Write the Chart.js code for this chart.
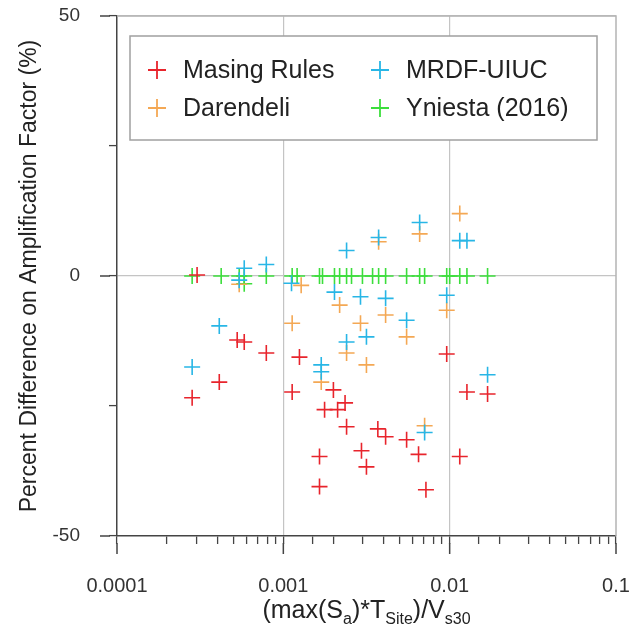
<!DOCTYPE html>
<html>
<head>
    <title>Amplification Factor Difference</title>
    <script src="https://cdn.jsdelivr.net/npm/chart.js"></script>
    <style>
        body {
            margin: 0;
            background: #fff;
            font-family: "Liberation Sans", Arial, sans-serif;
        }
        .wrap {
            position: relative;
            width: 642px;
            height: 634px;
        }
        #xtitle {
            position: absolute;
            left: 117px;
            width: 499px;
            top: 594px;
            text-align: center;
            font-size: 25px;
            line-height: 30px;
            color: #222;
        }
        #xtitle sub {
            font-size: 16px;
            vertical-align: -6px;
            line-height: 0;
        }
    </style>
</head>
<body>
    <div class="wrap">
        <canvas id="chart" width="642" height="634"></canvas>
        <div id="xtitle">(max(S<sub>a</sub>)*T<sub>Site</sub>)/V<sub>s30</sub></div>
    </div>

    <script>
        // values
        const masingX = [3.03e-4, 2.83e-4, 4.12e-4, 5.28e-4, 5.82e-4, 7.9e-4, 1.13e-3, 1.25e-3, 1.65e-3, 1.65e-3, 1.77e-3, 2.0e-3, 2.12e-3, 2.35e-3, 2.4e-3, 2.95e-3, 3.16e-3, 3.7e-3, 4.12e-3, 5.51e-3, 6.5e-3, 7.2e-3, 9.6e-3, 1.15e-2, 1.27e-2, 1.69e-2];
        const masingY = [0.2, -23.4, -20.4, -12.3, -12.7, -14.8, -22.3, -15.6, -34.7, -40.5, -25.7, -21.9, -25.7, -24.4, -29.0, -33.6, -36.7, -29.4, -30.9, -31.5, -34.3, -41.1, -15.0, -34.7, -22.3, -22.7];

        const darendeliX = [5.43e-4, 1.13e-3, 1.28e-3, 1.69e-3, 2.18e-3, 2.4e-3, 2.91e-3, 3.16e-3, 3.74e-3, 4.12e-3, 5.51e-3, 6.6e-3, 7.07e-3, 9.6e-3, 1.15e-2];
        const darendeliY = [-1.6, -9.1, -1.8, -20.4, -5.6, -14.8, -9.1, -17.1, 6.6, -7.5, -11.7, 8.1, -28.8, -6.6, 12.0];

        const mrdfX = [2.83e-4, 4.12e-4, 5.43e-4, 5.82e-4, 7.9e-4, 1.12e-3, 1.69e-3, 1.69e-3, 2.03e-3, 2.4e-3, 2.4e-3, 2.91e-3, 3.16e-3, 3.74e-3, 4.12e-3, 5.51e-3, 6.6e-3, 7.07e-3, 9.6e-3, 1.15e-2, 1.27e-2, 1.69e-2];
        const mrdfY = [-17.5, -9.6, -0.8, 1.5, 2.2, -1.4, -17.1, -18.4, -3.1, 4.9, -12.7, -4.0, -11.7, 7.4, -4.3, -8.5, 10.3, -30.1, -3.7, 6.8, 6.8, -19.0];

        const yniestaX = [2.83e-4, 4.23e-4, 5.43e-4, 5.82e-4, 5.82e-4, 7.9e-4, 1.13e-3, 1.21e-3, 1.65e-3, 1.72e-3, 2.03e-3, 2.18e-3, 2.4e-3, 2.57e-3, 2.99e-3, 3.44e-3, 3.74e-3, 4.12e-3, 5.51e-3, 6.6e-3, 7.07e-3, 9.6e-3, 1.0e-2, 1.15e-2, 1.27e-2, 1.69e-2];
        const yniestaY = [0, 0, 0, 0, -1.5, 0, 0, 0, 0, 0, 0, 0, 0, 0, 0, 0, 0, 0, 0, 0, 0, 0, 0, 0, 0, 0];

        const xTickLabels = ['0.0001', '0.001', '0.01', '0.1'];
        const yTickLabels = [50, 0, -50];

        const seriesNames = ['Masing Rules', 'Darendeli', 'MRDF-UIUC', 'Yniesta (2016)'];

        const RED = 'rgb(232,36,44)';
        const ORANGE = 'rgb(244,168,84)';
        const CYAN = 'rgb(40,182,230)';
        const GREEN = 'rgb(60,222,60)';

        function pts(xs, ys) {
            return xs.map((x, i) => ({ x: x, y: ys[i] }));
        }

        function isDecade(v) {
            const l = Math.log10(v);
            return Math.abs(l - Math.round(l)) < 1e-6;
        }

        function series(label, data, color) {
            return {
                label: label,
                data: data,
                pointStyle: 'cross',
                pointRadius: 8,
                pointHoverRadius: 8,
                borderColor: color,
                backgroundColor: color,
                pointBorderWidth: 1.6,
                showLine: false
            };
        }

        // frame + long major ticks
        const frame = {
            id: 'frame',
            beforeDatasetsDraw(chart) {
                const { ctx, chartArea: a } = chart;
                ctx.save();
                ctx.strokeStyle = '#b4b4b4';
                ctx.lineWidth = 1.5;
                ctx.beginPath();
                ctx.moveTo(a.left, a.top);
                ctx.lineTo(a.right, a.top);
                ctx.lineTo(a.right, a.bottom);
                ctx.stroke();
                ctx.restore();
            },
            afterDraw(chart) {
                const { ctx, chartArea: a, scales } = chart;
                ctx.save();
                ctx.strokeStyle = '#444';
                ctx.lineWidth = 1.5;
                ctx.beginPath();
                xTickLabels.forEach(t => {
                    const px = scales.x.getPixelForValue(parseFloat(t));
                    ctx.moveTo(px, a.bottom + 7);
                    ctx.lineTo(px, a.bottom + 18);
                });
                yTickLabels.forEach(t => {
                    const py = scales.y.getPixelForValue(t);
                    ctx.moveTo(a.left - 7, py);
                    ctx.lineTo(a.left - 17, py);
                });
                ctx.stroke();
                ctx.restore();
            }
        };

        // boxed legend in two columns inside the plot
        const boxLegend = {
            id: 'boxLegend',
            afterDatasetsDraw(chart) {
                const ctx = chart.ctx;
                const box = { left: 130, top: 36, right: 597, bottom: 140 };
                ctx.save();
                ctx.fillStyle = '#fff';
                ctx.fillRect(box.left, box.top, box.right - box.left, box.bottom - box.top);
                ctx.strokeStyle = '#a0a0a0';
                ctx.lineWidth = 1.5;
                ctx.strokeRect(box.left, box.top, box.right - box.left, box.bottom - box.top);

                const items = [
                    { label: seriesNames[0], color: RED, x: 157, y: 70 },
                    { label: seriesNames[1], color: ORANGE, x: 157, y: 108 },
                    { label: seriesNames[2], color: CYAN, x: 380, y: 70 },
                    { label: seriesNames[3], color: GREEN, x: 380, y: 108 }
                ];
                ctx.font = '25px "Liberation Sans", Arial, sans-serif';
                ctx.textBaseline = 'middle';
                items.forEach(it => {
                    ctx.strokeStyle = it.color;
                    ctx.lineWidth = 1.8;
                    ctx.beginPath();
                    ctx.moveTo(it.x - 9, it.y);
                    ctx.lineTo(it.x + 9, it.y);
                    ctx.moveTo(it.x, it.y - 9);
                    ctx.lineTo(it.x, it.y + 9);
                    ctx.stroke();
                    ctx.fillStyle = '#222';
                    ctx.fillText(it.label, it.x + 26, it.y + 1);
                });
                ctx.restore();
            }
        };

        const chart = new Chart(document.getElementById('chart'), {
            type: 'scatter',
            data: {
                datasets: [
                    series(seriesNames[0], pts(masingX, masingY), RED),
                    series(seriesNames[2], pts(mrdfX, mrdfY), CYAN),
                    series(seriesNames[1], pts(darendeliX, darendeliY), ORANGE),
                    series(seriesNames[3], pts(yniestaX, yniestaY), GREEN)
                ]
            },
            options: {
                responsive: false,
                animation: false,
                layout: {
                    padding: { top: 16, right: 26, bottom: 0, left: 0 }
                },
                plugins: {
                    legend: { display: false },
                    tooltip: { enabled: false }
                },
                scales: {
                    x: {
                        type: 'logarithmic',
                        min: 1e-4,
                        max: 0.1,
                        afterFit(scale) {
                            scale.height = 98;
                            scale.paddingLeft = 0;
                            scale.paddingRight = 0;
                        },
                        border: { color: '#444', width: 1.5 },
                        grid: {
                            color: c => (c.tick && isDecade(c.tick.value) && c.tick.value > 1e-4 && c.tick.value < 0.1) ? '#c4c4c4' : 'rgba(0,0,0,0)',
                            lineWidth: 1.2,
                            tickColor: '#444',
                            tickLength: 8,
                            tickWidth: 1.3
                        },
                        ticks: {
                            autoSkip: false,
                            maxRotation: 0,
                            padding: 30,
                            color: '#333',
                            font: { size: 20, family: '"Liberation Sans", Arial, sans-serif' },
                            callback: function (v) {
                                if (!isDecade(v)) return '';
                                const i = Math.round(Math.log10(v)) + 4;
                                return xTickLabels[i] || '';
                            }
                        }
                    },
                    y: {
                        min: -50,
                        max: 50,
                        afterFit(scale) {
                            scale.width = 117;
                            scale.paddingTop = 0;
                            scale.paddingBottom = 0;
                        },
                        border: { color: '#444', width: 1.5 },
                        grid: {
                            color: c => (c.tick && (c.tick.value === 0 || c.tick.value === 50)) ? '#c4c4c4' : 'rgba(0,0,0,0)',
                            lineWidth: 1.2,
                            tickColor: '#444',
                            tickLength: 8,
                            tickWidth: 1.3
                        },
                        ticks: {
                            stepSize: 25,
                            padding: 29,
                            color: '#333',
                            font: { size: 19, family: '"Liberation Sans", Arial, sans-serif' },
                            callback: v => yTickLabels.includes(v) ? String(v) : ''
                        },
                        title: {
                            display: true,
                            text: 'Percent Difference on Amplification Factor (%)',
                            color: '#222',
                            padding: { top: 16, bottom: 0 },
                            font: { size: 23, family: '"Liberation Sans", Arial, sans-serif' }
                        }
                    }
                }
            },
            plugins: [frame, boxLegend]
        });
    </script>
</body>
</html>
